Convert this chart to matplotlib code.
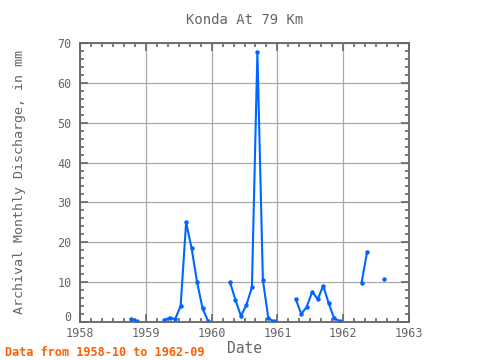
import numpy as np
import matplotlib
matplotlib.use("Agg")
import matplotlib.pyplot as plt
from matplotlib.ticker import MultipleLocator, FuncFormatter

# monthly discharge, 1958-10 .. 1962-09 (nan = no data)
years = [1958] * 3 + [1959] * 12 + [1960] * 12 + [1961] * 12 + [1962] * 9
months = list(range(10, 13)) + list(range(1, 13)) * 3 + list(range(1, 10))
discharge = [
    0.8, 0.25, np.nan,
    np.nan, np.nan, np.nan, 0.5, 1.1, 0.7, 4.0, 25.0, 18.5, 10.0, 3.4, 0.25,
    np.nan, np.nan, np.nan, 10.0, 5.5, 1.5, 4.3, 8.7, 67.7, 10.5, 0.9, 0.2,
    np.nan, np.nan, np.nan, 5.7, 2.0, 3.8, 7.6, 5.7, 9.1, 4.7, 0.9, 0.25,
    np.nan, np.nan, np.nan, 9.9, 17.5, np.nan, np.nan, 10.7, np.nan,
]

t = np.array([y + (m - 0.65) / 12.0 for y, m in zip(years, months)])
q = np.array(discharge)

plt.rcParams['font.family'] = ['DejaVu Sans Mono']
grey = '#666666'

fig = plt.figure(figsize=(4.8, 3.6), dpi=100)
ax = fig.add_axes([0.1667, 0.1056, 0.6854, 0.775])

ax.plot(t, q, color='#0066ff', lw=1.5, marker='o', ms=2.2)

ax.set_xlim(1958, 1963)
ax.set_ylim(0, 70)
ax.xaxis.set_major_locator(MultipleLocator(1))
ax.xaxis.set_minor_locator(MultipleLocator(1 / 6))
ax.yaxis.set_major_locator(MultipleLocator(10))
ax.yaxis.set_minor_locator(MultipleLocator(2))
# the "0" label is drawn separately, a bit raised, so it clears "1958"
ax.yaxis.set_major_formatter(FuncFormatter(lambda v, p: '' if v == 0 else f'{v:g}'))
ax.grid(True, which='major', color='#aaaaaa', lw=0.9)
ax.tick_params(which='both', direction='in', top=True, right=True,
               colors=grey, labelsize=8.5, width=1.2)
ax.tick_params(which='major', length=6)
ax.tick_params(which='minor', length=3)
ax.tick_params(axis='y', pad=6)
for s in ax.spines.values():
    s.set_color(grey)
    s.set_linewidth(1.3)
ax.annotate('0', xy=(0, 0), xycoords=('axes fraction', 'data'),
            xytext=(-6, -1.5), textcoords='offset points',
            ha='right', va='bottom', color=grey, fontsize=8.5)

ax.set_xlabel('Date', color=grey, fontsize=10.5, labelpad=1)
ax.set_ylabel('Archival Monthly Discharge, in mm', color=grey, fontsize=9.6)
ax.yaxis.set_label_coords(-0.165, 0.5)
ax.set_title('Konda At 79 Km', color=grey, fontsize=10, pad=14)
fig.text(0.01, 0.012, 'Data from 1958-10 to 1962-09', color='#ff5f00',
         fontsize=8.5, fontweight='bold')

fig.savefig('out.png', dpi=100)
